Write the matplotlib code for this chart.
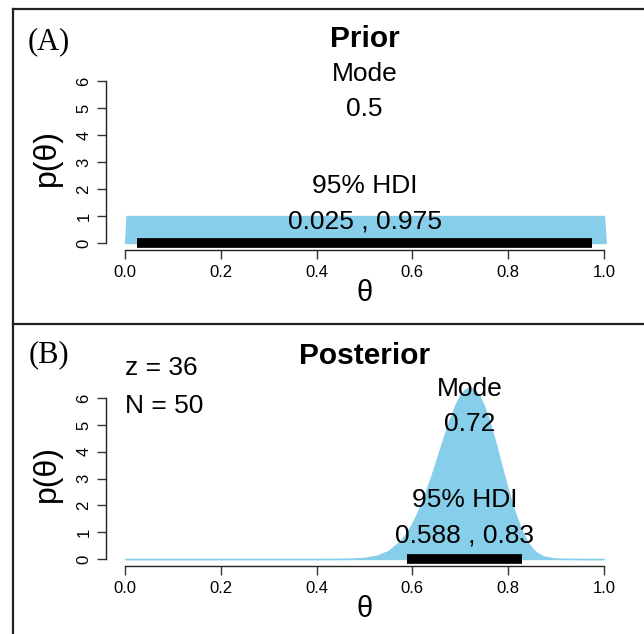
import matplotlib
matplotlib.use("Agg")
import matplotlib.pyplot as plt
from matplotlib.lines import Line2D

plt.rcParams['font.family'] = ['Liberation Sans', 'DejaVu Sans']

# prior: uniform beta(1,1)
prior_theta = [0.0, 0.003, 1.0, 1.004]
prior_dens = [0.0, 1.0, 1.0, 0.0]
prior_mode = 0.5
prior_hdi = [0.025, 0.975]

# posterior after z=36 of N=50
post_theta = [0.0, 0.40, 0.45, 0.475, 0.50, 0.525, 0.55, 0.575, 0.59, 0.60,
              0.61, 0.625, 0.64, 0.65, 0.66, 0.675, 0.69, 0.70, 0.71, 0.72,
              0.73, 0.74, 0.75, 0.76, 0.775, 0.79, 0.80, 0.81, 0.825, 0.83,
              0.84, 0.85, 0.86, 0.875, 0.90, 0.95, 1.0]
post_dens = [0.0, 0.0003, 0.004, 0.013, 0.043, 0.12, 0.30, 0.67, 1.03, 1.33,
             1.70, 2.35, 3.11, 3.67, 4.23, 5.05, 5.75, 6.10, 6.32, 6.40,
             6.32, 6.08, 5.69, 5.18, 4.24, 3.22, 2.56, 1.95, 1.19, 0.99,
             0.65, 0.40, 0.23, 0.089, 0.011, 0.0, 0.0]
post_mode = 0.72
post_hdi = [0.588, 0.83]
z, N = 36, 50

xticks = [0.0, 0.2, 0.4, 0.6, 0.8, 1.0]
xticklabels = ["0.0", "0.2", "0.4", "0.6", "0.8", "1.0"]
yticks = [0, 1, 2, 3, 4, 5, 6]

fill_col = "#87CEEB"
W, H = 644, 634


def px_axes(left, right, bottom, top):
    return [left / W, 1 - bottom / H, (right - left) / W, (bottom - top) / H]


def panel(ax, theta, dens, mode_txt, mode_x, mode_y, hdi, hdi_x, hdi_y, title):
    ax.fill_between(theta, dens, 0, color=fill_col, edgecolor=fill_col, linewidth=1.0)
    ax.plot(hdi, [0, 0], color="black", linewidth=7, solid_capstyle="butt")
    ax.set_xlim(-0.04, 1.04)
    ax.set_ylim(-0.26, 6.6)
    for s in ["top", "right"]:
        ax.spines[s].set_visible(False)
    ax.spines["left"].set_bounds(0, 6)
    ax.spines["bottom"].set_bounds(0, 1)
    for s in ["left", "bottom"]:
        ax.spines[s].set_color("#222222")
        ax.spines[s].set_linewidth(1.0)
    ax.set_xticks(xticks)
    ax.set_xticklabels(xticklabels, fontsize=12)
    ax.set_yticks(yticks)
    ax.set_yticklabels([str(v) for v in yticks], fontsize=12, rotation=90, va="center")
    ax.tick_params(direction="out", length=6.5, width=1.0, color="#333333", pad=4)
    fs = 19
    ax.text(mode_x, mode_y, "Mode", ha="center", va="center", fontsize=fs, clip_on=False)
    ax.text(mode_x, mode_y - 1.29, mode_txt, ha="center", va="center", fontsize=fs)
    ax.text(hdi_x, hdi_y, "95% HDI", ha="center", va="center", fontsize=fs)
    ax.text(hdi_x, hdi_y - 1.33, "%s , %s" % (("%g" % hdi[0]), ("%g" % hdi[1])),
            ha="center", va="center", fontsize=fs)
    ax.set_title(title, fontsize=21.5, fontweight="bold", pad=13)
    ax.text(0.5, -0.232, "θ", transform=ax.transAxes, ha="center", va="center", fontsize=21)
    ax.text(-0.114, 0.5, "p(θ)", transform=ax.transAxes, ha="center", va="center",
            rotation=90, fontsize=23)


fig = plt.figure(figsize=(W / 100, H / 100), dpi=100)

ax1 = fig.add_axes(px_axes(106, 623, 250, 65))
panel(ax1, prior_theta, prior_dens, "%g" % prior_mode, prior_mode, 6.26,
      prior_hdi, 0.5, 2.11, "Prior")

ax2 = fig.add_axes(px_axes(106, 623, 566, 382))
panel(ax2, post_theta, post_dens, "%g" % post_mode, post_mode, 6.34,
      post_hdi, sum(post_hdi) / 2, 2.2, "Posterior")
ax2.text(0.0, 7.13, "z = %d" % z, ha="left", va="center", fontsize=19, clip_on=False)
ax2.text(0.0, 5.7, "N = %d" % N, ha="left", va="center", fontsize=19, clip_on=False)

# panel letters and frame lines
fig.text(49 / W, 1 - 42 / H, "(A)", ha="center", va="center", fontsize=22,
         family="Liberation Serif")
fig.text(49 / W, 1 - 355 / H, "(B)", ha="center", va="center", fontsize=22,
         family="Liberation Serif")
for xs, ys in [([13 / W, 13 / W], [1 - 9 / H, 0]),
               ([13 / W, 1], [1 - 9 / H, 1 - 9 / H]),
               ([13 / W, 1], [1 - 324 / H, 1 - 324 / H])]:
    fig.add_artist(Line2D(xs, ys, color="#222222", linewidth=1.6))

fig.savefig("out.png", dpi=100)
